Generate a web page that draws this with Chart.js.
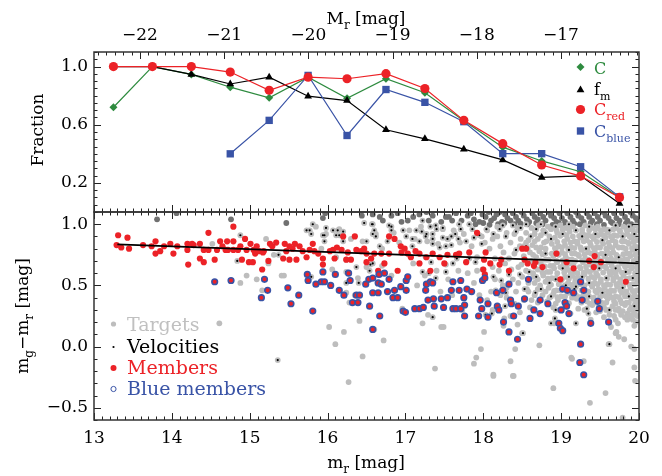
<!DOCTYPE html>
<html>
<head>
<meta charset="utf-8">
<script src="https://cdn.jsdelivr.net/npm/chart.js@4.4.1/dist/chart.umd.min.js"></script>
<style>
html, body { margin: 0; padding: 0; background: #fff; }
#wrap { position: relative; width: 662px; height: 476px; }
#wrap canvas { position: absolute; left: 0; top: 0; }
</style>
</head>
<body>
<div id="wrap">
  <canvas id="colourChart" width="662" height="476"></canvas>
  <canvas id="fracChart" width="662" height="476"></canvas>
</div>
<script>
// ---- top panel: fractions per m_r bin ----
const magBins  = [13.25, 13.75, 14.25, 14.75, 15.25, 15.75, 16.25, 16.75, 17.25, 17.75, 18.25, 18.75, 19.25, 19.75];
const fracC    = [0.72, 1.00, 0.946, 0.858, 0.785, 0.927, 0.782, 0.916, 0.82, 0.628, 0.446, 0.351, 0.277, 0.10];
const fracFm   = [1.00, 1.00, 0.946, 0.88, 0.927, 0.796, 0.766, 0.565, 0.503, 0.432, 0.358, 0.238, 0.249, 0.058];
const fracRed  = [1.00, 1.00, 1.00, 0.962, 0.837, 0.927, 0.916, 0.951, 0.849, 0.63, 0.47, 0.323, 0.247, 0.10];
const fracBlue = [null, null, null, 0.40, 0.63, 0.939, 0.526, 0.842, 0.754, 0.621, 0.401, 0.401, 0.311, 0.104];

// tick labels
const mrTicks = [13, 14, 15, 16, 17, 18, 19, 20];
const absTicks = [-22, -21, -20, -19, -18, -17];
const fracTicks = [0.2, 0.6, 1.0];
const colourTicks = [-0.5, 0.0, 0.5, 1.0];

// ---- bottom panel: colour-magnitude diagram ----
// red sequence fit
const fitX = [13.3, 20.0];
const fitY = [0.835, 0.68];

// spectroscopic members
const members = [
[13.31,0.91],[13.29,0.83],[13.35,0.81],[13.43,0.89],[13.45,0.80],[13.63,0.83],[13.74,0.82],[13.79,0.86],[13.79,0.76],[13.85,0.78],
[13.90,0.82],[13.98,0.84],[14.02,0.76],[14.07,0.82],[14.20,0.84],[14.20,0.79],[14.21,0.67],[14.26,0.84],[14.28,0.83],[14.36,0.84],
[14.36,0.72],[14.41,0.79],[14.41,0.69],[14.47,0.93],[14.47,0.79],[14.55,0.71],[14.58,0.79],[14.62,0.86],[14.65,0.82],[14.69,0.79],
[14.71,0.86],[14.72,0.79],[14.79,0.98],[14.79,0.86],[14.79,0.79],[14.85,0.79],[14.88,0.82],[14.90,0.71],[14.94,0.88],[14.96,0.79],
[14.99,0.69],[15.01,0.84],[15.04,0.69],[15.05,0.79],[15.07,0.76],[15.09,0.82],[15.12,0.78],[15.16,0.63],[15.17,0.77],[15.18,0.78],
[15.24,0.70],[15.26,0.84],[15.29,0.82],[15.34,0.85],[15.45,0.84],[15.51,0.82],[15.58,0.84],[15.64,0.82],[15.47,0.78],[15.51,0.71],
[15.60,0.71],[15.68,0.78],[15.77,0.79],[15.81,0.84],[15.83,0.78],[15.73,0.73],[15.94,0.72],[15.94,0.67],[16.03,0.78],[16.07,0.79],
[16.09,0.72],[16.18,0.79],[16.20,0.90],[16.26,0.77],[16.30,0.71],[16.35,0.90],[16.37,0.79],[16.43,0.78],[16.50,0.76],[16.56,0.72],
[16.60,0.76],[16.65,0.62],[16.69,0.76],[16.73,0.68],[16.79,0.90],[16.86,0.88],[16.79,0.76],[16.90,0.62],[16.94,0.82],[16.99,0.80],
[17.03,0.76],[17.07,0.73],[17.13,0.78],[17.18,0.76],[17.27,0.73],[17.32,0.62],[17.35,0.76],[17.44,0.73],[17.50,0.68],[17.54,0.75],
[17.65,0.75],[17.18,0.68],[16.50,0.69],[16.24,0.71],[15.88,0.76],[15.43,0.72],[15.55,0.80],[16.12,0.81],[16.47,0.80],[16.95,0.77],
[17.92,0.93],[17.69,0.76],[17.82,0.77],[17.78,0.69],[18.03,0.77],[18.01,0.71],[18.09,0.68],[18.00,0.63],[18.02,0.59],[18.23,0.71],
[18.21,0.67],[18.33,0.62],[18.50,0.80],[18.55,0.80],[18.53,0.71],[18.57,0.68],[18.67,0.69],[18.65,0.66],[18.76,0.65],[18.94,0.76],
[18.99,0.55],[19.07,0.69],[19.16,0.64],[19.36,0.70],[19.43,0.74],[19.42,0.65],[19.51,0.69],[19.83,0.53]
];

// blue members
const blueMembers = [
[14.55,0.53],[14.76,0.54],[15.19,0.55],[15.23,0.46],[15.15,0.40],[15.74,0.59],[15.75,0.54],[15.85,0.51],[15.94,0.61],[15.92,0.53],
[15.96,0.53],[16.10,0.59],[16.04,0.50],[16.15,0.46],[16.21,0.42],[16.27,0.60],[16.29,0.54],[16.37,0.42],[16.32,0.36],[16.39,0.36],
[16.41,0.42],[16.49,0.51],[16.53,0.55],[16.58,0.56],[16.66,0.59],[16.65,0.52],[16.69,0.51],[16.58,0.44],[16.65,0.44],[16.73,0.60],
[16.79,0.55],[16.77,0.45],[16.86,0.46],[16.84,0.40],[16.90,0.40],[16.94,0.49],[17.01,0.46],[17.01,0.54],[17.03,0.57],[16.54,0.33],
[16.67,0.25],[16.58,0.14],[15.81,0.29],[15.53,0.35],[15.63,0.42],[15.49,0.48],[16.97,0.29],[17.00,0.28],[17.12,0.31],[17.18,0.31],
[17.23,0.32],[17.29,0.38],[17.36,0.39],[17.46,0.39],[17.37,0.33],[17.49,0.32],[17.54,0.40],[17.59,0.46],[17.61,0.31],[17.65,0.31],
[17.27,0.51],[17.32,0.53],[17.35,0.52],[17.26,0.46],[17.61,0.53],[17.71,0.54],[17.69,0.46],[17.79,0.47],[17.85,0.45],[17.75,0.40],
[17.76,0.34],[17.71,0.31],[17.76,0.25],[17.99,0.54],[18.02,0.56],[17.96,0.38],[18.06,0.35],[17.98,0.31],[17.94,0.25],[18.06,0.24],
[18.17,0.44],[18.25,0.46],[18.18,0.33],[18.20,0.30],[18.26,0.20],[18.33,0.51],[18.35,0.38],[18.36,0.35],[18.45,0.33],[18.39,0.25],
[18.33,0.12],[18.44,0.06],[18.53,0.39],[18.58,0.55],[18.65,0.30],[18.60,0.23],[18.73,0.38],[18.73,0.27],[18.83,0.35],[19.02,0.47],
[19.08,0.46],[19.16,0.44],[19.29,0.46],[19.25,0.53],[19.27,0.38],[19.05,0.36],[19.07,0.33],[19.00,0.30],[19.10,0.27],[18.97,0.19],
[18.99,0.15],[19.02,0.13],[19.25,0.02],[19.24,-0.13],[19.29,-0.23],[19.38,0.19],[19.47,0.37],[19.49,0.31],[19.61,0.20]
];

// galaxies with measured velocities
const velocities = [
[14.88,0.91],[14.84,0.70],[15.37,0.75],[15.36,-0.11],[15.77,0.95],[15.81,1.00],[15.79,0.92],[15.96,0.91],[15.96,0.86],[16.07,0.95],
[16.11,0.91],[16.20,0.94],[16.20,0.86],[16.47,1.01],[16.58,1.00],[16.60,0.95],[16.50,0.86],[16.55,0.67],[16.54,0.62],[16.40,0.52],
[16.24,0.52],[16.11,0.73],[15.79,0.57],[15.73,0.95],[15.98,0.97],[16.13,0.95],[16.15,0.91],[15.94,0.91],[16.62,0.90],[16.67,0.82],
[16.58,0.68],[16.24,0.61],[16.37,0.65],[16.79,0.99],[16.82,0.95],[16.97,0.95],[17.01,0.90],[17.09,0.88],[17.14,0.95],[17.18,0.86],
[17.27,0.92],[17.35,0.92],[17.39,0.99],[17.48,0.97],[17.54,0.88],[17.59,0.90],[17.35,0.84],[17.44,0.81],[17.52,0.82],[17.09,0.82],
[17.22,0.61],[17.30,0.60],[17.39,0.56],[17.52,0.61],[17.61,0.68],[17.35,0.24],[16.24,0.71],[16.57,1.00],[16.58,0.92],[16.82,0.98],
[16.77,0.86],[17.22,1.03],[17.32,0.98],[17.40,0.96],[17.21,0.94],[17.26,0.90],[17.35,0.88],[17.48,0.89],[17.64,0.92],[17.69,1.00],
[17.71,0.96],[17.82,1.00],[17.86,0.96],[17.59,0.83],[17.68,0.88],[17.78,0.86],[17.88,0.89],[17.95,0.91],[17.98,0.84],[18.04,0.96],
[18.13,0.92],[18.21,0.96],[18.25,0.99],[18.29,0.90],[18.38,0.99],[18.42,0.94],[18.48,0.97],[18.55,1.00],[18.61,0.90],[18.68,0.96],
[18.74,1.00],[18.80,0.93],[18.87,0.88],[18.93,0.98],[19.02,0.92],[19.10,1.00],[19.19,0.95],[19.27,0.90],[19.36,0.98],[19.44,0.92],
[19.53,0.87],[19.62,0.95],[19.70,0.99],[19.79,0.90],[19.87,0.98],[19.94,0.92],[17.26,0.73],[17.33,0.69],[17.52,0.67],[17.66,0.72],
[17.82,0.72],[17.90,0.69],[17.99,0.63],[18.13,0.57],[18.23,0.54],[18.33,0.59],[18.47,0.59],[18.59,0.61],[18.68,0.57],[18.76,0.65],
[18.85,0.52],[18.93,0.55],[19.02,0.64],[19.10,0.57],[19.19,0.49],[19.27,0.57],[19.36,0.52],[19.49,0.64],[19.58,0.56],[19.70,0.64],
[19.83,0.61],[19.92,0.56],[19.96,0.79],[18.42,0.79],[18.55,0.82],[18.80,0.76],[19.10,0.79],[19.32,0.80],[19.57,0.75],[19.74,0.73],
[18.16,0.46],[18.29,0.44],[18.53,0.47],[18.67,0.44],[18.74,0.47],[18.87,0.41],[19.06,0.50],[19.17,0.47],[19.36,0.41],[19.53,0.44],
[19.79,0.48],[19.87,0.41],[19.94,0.33],[19.62,0.30],[19.33,0.31],[18.93,0.30],[18.28,0.33],[18.03,0.26],[18.11,0.27],[18.51,0.11],
[18.87,0.19],[18.92,0.23],[19.19,0.19],[19.35,0.27],[19.62,0.02]
];

// photometric targets
const targets = [
[14.52,0.84],[14.96,0.58],[14.88,0.52],[15.09,0.55],[15.16,0.46],[15.21,0.88],[15.31,0.75],[15.24,0.68],[15.41,0.58],[14.61,0.19],
[15.44,0.58],[15.85,0.98],[15.92,0.80],[16.06,0.63],[16.28,0.36],[16.39,0.56],[16.50,0.65],[16.24,0.44],[16.35,0.42],[16.45,0.86],
[16.70,0.80],[16.02,0.16],[16.21,0.12],[16.10,0.02],[16.27,-0.29],[16.45,-0.08],[16.41,0.21],[16.60,0.14],[16.72,0.05],[16.96,0.31],
[17.22,0.19],[17.38,-0.18],[17.46,0.16],[17.49,0.16],[17.73,0.30],[17.29,0.26],[17.88,-0.14],[17.91,-0.09],[17.97,-0.02],[18.01,0.12],
[18.13,-0.24],[18.27,0.23],[18.35,-0.12],[18.38,-0.24],[18.41,-0.02],[18.44,0.18],[18.72,0.01],[18.90,-0.34],[19.14,-0.10],[19.29,-0.12],
[19.37,-0.46],[19.57,-0.38],[19.66,-0.13],[19.70,0.11],[19.73,0.19],[19.79,-0.58],[19.94,-0.17],[19.95,-0.28],[19.94,-0.02],[19.92,0.26],
[19.90,0.00],[19.81,0.06],[19.74,0.08],[19.71,0.12],[19.61,0.02],[18.50,0.11],[18.26,0.17],[19.94,0.17],[19.85,0.22],[19.64,0.16],
[19.38,0.22],[18.91,0.19],[19.13,-0.09],[18.13,-0.23],[18.39,-0.24],[17.05,0.95],[17.12,0.88],[17.20,0.98],[17.28,0.86],[17.42,0.84],
[17.48,0.96],[17.10,0.68],[17.40,0.62],[17.25,0.58],[17.55,0.55],[16.92,0.85],[16.85,0.93],[16.62,0.92],[16.70,0.66],[16.30,0.88],
[16.15,0.96],[15.98,0.92],[16.82,0.58],[17.15,0.50],[17.60,0.42],[17.45,0.45],[18.05,0.95],[18.12,0.88],[18.18,0.98],[18.22,0.82],
[18.30,0.93],[18.35,0.85],[18.40,0.76],[18.44,0.97],[18.48,0.88],[18.15,0.72],[18.28,0.68],[18.45,0.65],[18.38,0.55],[18.50,0.57],
[18.25,0.50],[18.10,0.45],[18.42,0.45],[18.52,0.38],[18.30,0.40],[18.47,0.28],[18.56,0.47],[18.20,0.62],[18.08,0.80],[17.98,0.90],
[17.92,0.73],[17.85,0.82],[17.75,0.92],[17.70,0.85],[17.62,0.95],[17.55,0.88],[17.80,0.60],[17.88,0.52],[17.68,0.62],[17.95,0.42],
[18.12,0.30],[18.35,0.25],[18.55,0.62],[18.60,0.32],[18.58,0.52],[18.66,0.42],[18.70,0.36],
[18.02,0.85],[18.18,0.90],[18.26,0.77],[18.33,0.72],[18.40,0.92],[18.47,0.82],[18.52,0.74],[18.12,0.65],[18.36,0.63],[18.45,0.52],
[18.22,0.42],[18.30,0.48],[18.40,0.35],[18.05,0.38],[18.15,0.55],[17.92,0.62],[17.85,0.45],[18.58,0.45],[18.62,0.38],[18.49,0.67],
[18.62,0.97],[18.71,0.99],[18.83,0.98],[18.99,0.99],[19.06,0.97],[19.15,0.98],[19.31,0.99],[19.40,0.97],[19.47,0.98],[19.55,0.96],
[19.71,0.97],[19.80,0.98],[19.88,0.96],[19.96,0.99],[18.55,0.93],[18.66,0.92],[18.78,0.94],[18.95,0.93],[19.03,0.92],[19.11,0.94],
[19.27,0.93],[19.35,0.91],[19.51,0.92],[19.60,0.93],[19.68,0.91],[19.76,0.94],[19.85,0.92],[19.93,0.93],[18.58,0.87],[18.70,0.88],
[18.81,0.86],[18.92,0.89],[19.08,0.88],[19.17,0.86],[19.25,0.89],[19.33,0.87],[19.42,0.88],[19.57,0.89],[19.66,0.87],[19.82,0.86],
[19.90,0.89],[19.97,0.87],[18.52,0.82],[18.63,0.83],[18.74,0.81],[18.88,0.84],[18.97,0.82],[19.05,0.83],[19.13,0.81],[19.21,0.84],
[19.38,0.83],[19.46,0.81],[19.54,0.84],[19.62,0.82],[19.70,0.83],[19.79,0.81],[19.87,0.84],[19.95,0.82],[18.60,0.77],[18.72,0.78],
[18.93,0.79],[19.01,0.77],[19.18,0.76],[19.26,0.79],[19.35,0.77],[19.43,0.78],[19.52,0.76],[19.59,0.79],[19.67,0.77],[19.84,0.76],
[19.92,0.79],[19.98,0.77],[18.68,0.73],[18.80,0.71],[18.90,0.74],[19.06,0.73],[19.14,0.71],[19.23,0.74],[19.31,0.72],[19.48,0.71],
[19.56,0.74],[19.64,0.72],[19.72,0.73],[19.81,0.71],[19.89,0.74],[19.97,0.72],[18.74,0.68],[18.86,0.66],[18.95,0.69],[19.03,0.67],
[19.12,0.68],[19.28,0.69],[19.37,0.67],[19.45,0.68],[19.53,0.66],[19.61,0.69],[19.78,0.68],[19.86,0.66],[19.94,0.69],[18.70,0.63],
[18.82,0.61],[18.91,0.64],[19.08,0.63],[19.17,0.61],[19.25,0.64],[19.33,0.62],[19.41,0.63],[19.58,0.64],[19.66,0.62],[19.74,0.63],
[19.83,0.61],[19.91,0.64],[19.98,0.62],[18.64,0.57],[18.77,0.58],[18.88,0.56],[19.05,0.57],[19.14,0.58],[19.22,0.56],[19.30,0.59],
[19.39,0.57],[19.47,0.58],[19.63,0.59],[19.71,0.57],[19.80,0.58],[19.88,0.56],[19.96,0.59],[18.66,0.52],[18.80,0.53],[19.00,0.54],
[19.09,0.52],[19.18,0.53],[19.26,0.51],[19.43,0.52],[19.51,0.53],[19.59,0.51],[19.67,0.54],[19.75,0.52],[19.84,0.53],[19.92,0.51],
[19.98,0.54],[18.70,0.47],[18.84,0.48],[18.94,0.46],[19.03,0.49],[19.12,0.47],[19.31,0.46],[19.40,0.49],[19.48,0.47],[19.56,0.48],
[19.64,0.46],[19.72,0.49],[19.89,0.48],[19.97,0.46],[18.76,0.42],[18.90,0.43],[19.00,0.41],[19.10,0.44],[19.19,0.42],[19.29,0.43],
[19.46,0.44],[19.54,0.42],[19.62,0.43],[19.70,0.41],[19.78,0.44],[19.86,0.42],[19.94,0.43],[18.82,0.37],[18.96,0.38],[19.20,0.39],
[19.33,0.37],[19.42,0.38],[19.52,0.36],[19.60,0.39],[19.68,0.37],[19.76,0.38],[19.84,0.36],[19.92,0.39],[19.98,0.37],[18.90,0.32],
[19.05,0.33],[19.22,0.31],[19.40,0.34],[19.55,0.32],[19.66,0.33],[19.74,0.31],[19.82,0.34],[19.90,0.32],[19.97,0.33],[19.12,0.27],
[19.45,0.28],[19.62,0.26],[19.75,0.29],[19.85,0.27],[19.94,0.28],[19.70,0.22],[19.82,0.24],[19.92,0.22],[19.98,0.25],
[18.66,0.955],[18.77,0.95],[18.87,0.96],[18.94,0.95],[19.02,0.955],[19.10,0.96],[19.19,0.95],[19.27,0.955],[19.36,0.95],[19.44,0.96],
[19.51,0.95],[19.59,0.955],[19.67,0.96],[19.75,0.95],[19.84,0.955],[19.92,0.96],[19.99,0.95],[18.61,0.90],[18.74,0.91],[18.85,0.90],
[18.99,0.905],[19.07,0.91],[19.15,0.90],[19.23,0.905],[19.31,0.91],[19.40,0.90],[19.47,0.905],[19.55,0.91],[19.64,0.90],[19.72,0.905],
[19.80,0.91],[19.88,0.90],[19.95,0.905],[18.55,0.85],[18.66,0.86],[18.78,0.85],[18.95,0.855],[19.04,0.86],[19.12,0.85],[19.21,0.855],
[19.29,0.86],[19.37,0.85],[19.46,0.855],[19.53,0.86],[19.61,0.85],[19.70,0.855],[19.78,0.86],[19.86,0.85],[19.93,0.855],[18.57,0.80],
[18.68,0.81],[18.80,0.80],[18.92,0.805],[19.01,0.81],[19.09,0.80],[19.17,0.805],[19.25,0.81],[19.34,0.80],[19.42,0.805],[19.50,0.81],
[19.58,0.80],[19.66,0.805],[19.74,0.81],[19.83,0.80],[19.91,0.805],[19.98,0.81],[18.64,0.75],[18.76,0.755],[18.88,0.76],[18.97,0.75],
[19.05,0.755],[19.14,0.76],[19.22,0.75],[19.30,0.755],[19.39,0.76],[19.47,0.75],[19.55,0.755],[19.63,0.76],[19.71,0.75],[19.80,0.755],
[19.88,0.76],[19.95,0.75],[18.62,0.70],[18.74,0.705],[18.84,0.71],[18.94,0.70],[19.02,0.705],[19.10,0.71],[19.18,0.70],[19.27,0.705],
[19.35,0.71],[19.43,0.70],[19.52,0.705],[19.60,0.71],[19.68,0.70],[19.76,0.705],[19.85,0.71],[19.93,0.70],[19.99,0.705],[18.66,0.65],
[18.79,0.655],[18.90,0.66],[18.99,0.65],[19.07,0.655],[19.16,0.66],[19.24,0.65],[19.32,0.655],[19.41,0.66],[19.49,0.65],[19.57,0.655],
[19.65,0.66],[19.73,0.65],[19.82,0.655],[19.90,0.66],[19.97,0.65],[18.64,0.60],[18.76,0.605],[18.86,0.61],[18.95,0.60],[19.04,0.605],
[19.12,0.61],[19.21,0.60],[19.29,0.605],[19.37,0.61],[19.45,0.60],[19.54,0.605],[19.62,0.61],[19.70,0.60],[19.78,0.605],[19.87,0.61],
[19.95,0.60],[18.70,0.55],[18.83,0.555],[18.93,0.56],[19.01,0.55],[19.10,0.555],[19.18,0.56],[19.26,0.55],[19.35,0.555],[19.43,0.56],
[19.51,0.55],[19.59,0.555],[19.67,0.56],[19.76,0.55],[19.84,0.555],[19.92,0.56],[19.99,0.55],[18.73,0.50],[18.87,0.505],[18.97,0.51],
[19.05,0.50],[19.14,0.505],[19.22,0.51],[19.30,0.50],[19.39,0.505],[19.47,0.51],[19.55,0.50],[19.63,0.505],[19.71,0.51],[19.80,0.50],
[19.88,0.505],[19.95,0.51],[18.80,0.45],[18.91,0.455],[18.99,0.46],[19.08,0.45],[19.17,0.455],[19.26,0.46],[19.35,0.45],[19.44,0.455],
[19.52,0.46],[19.60,0.45],[19.68,0.455],[19.76,0.46],[19.84,0.45],[19.92,0.455],[19.99,0.46],[18.85,0.40],[18.95,0.405],[19.05,0.41],
[19.14,0.40],[19.24,0.405],[19.33,0.41],[19.42,0.40],[19.50,0.405],[19.58,0.41],[19.66,0.40],[19.74,0.405],[19.82,0.41],[19.90,0.40],
[19.97,0.405],[18.93,0.35],[19.10,0.355],[19.26,0.36],[19.37,0.35],[19.47,0.355],[19.58,0.36],[19.70,0.35],[19.78,0.355],[19.87,0.36],
[19.95,0.35],[19.00,0.30],[19.30,0.30],[19.50,0.29],[19.58,0.30],[19.70,0.30],[19.79,0.29],[19.88,0.30],[19.96,0.30],[19.55,0.24],
[19.68,0.25],[19.77,0.26],[19.88,0.25],[19.96,0.20]
];

// targets redder than the plotted range (piled up at the top edge)
const redTargets = [
[13.81,1.04],[14.06,1.09],[14.76,1.04],[15.47,1.01],[15.97,1.09],[16.44,1.07],[16.58,1.08],[15.94,1.05],[16.67,1.06],[17.03,1.03],
[17.27,1.10],[17.52,1.06],[16.71,1.03],[16.82,1.07],[16.95,1.02],[17.10,1.06],[17.18,1.08],[17.30,1.03],[17.46,1.02],[17.56,1.06],
[17.65,1.09],[17.72,1.03],[17.80,1.07],[17.88,1.04],[17.95,1.02],[18.03,1.06],[18.10,1.03],[18.17,1.08],[18.24,1.02],[18.31,1.05],
[18.38,1.09],[18.45,1.03],[18.52,1.07],[18.59,1.02],[18.66,1.06],[18.73,1.09],[18.80,1.03],[18.87,1.07],[18.94,1.02],[19.01,1.05],
[19.08,1.09],[19.15,1.03],[19.22,1.07],[19.29,1.02],[19.36,1.06],[19.43,1.09],[19.50,1.03],[19.57,1.07],[19.64,1.02],[19.71,1.05],
[19.78,1.09],[19.85,1.03],[19.92,1.07],[19.98,1.02],[17.99,1.08],[18.07,1.10],[18.14,1.05],[18.21,1.10],[18.28,1.08],[18.35,1.03],
[18.42,1.06],[18.49,1.10],[18.56,1.04],[18.63,1.09],[18.70,1.04],[18.77,1.06],[18.84,1.10],[18.91,1.05],[18.98,1.09],[19.05,1.02],
[19.12,1.06],[19.19,1.10],[19.26,1.05],[19.33,1.09],[19.40,1.03],[19.47,1.06],[19.54,1.10],[19.61,1.05],[19.68,1.09],[19.75,1.03],
[19.82,1.06],[19.89,1.10],[19.96,1.05],[17.90,1.00],[18.00,1.01],[18.08,0.995],[18.19,1.00],[18.27,1.01],[18.40,1.00],[18.48,1.005],
[18.57,1.00],[18.68,1.01],[18.76,1.00],[18.89,0.995],[18.97,1.01],[19.06,1.00],[19.17,1.005],[19.24,1.00],[19.38,1.01],[19.46,1.00],
[19.55,0.995],[19.66,1.01],[19.74,1.00],[19.83,1.005],[19.90,1.00],[19.99,1.01],[17.35,1.07],[17.60,1.03],[17.84,1.09],[16.90,1.09]
];

const GREEN = '#2e8b3f', RED = '#ec2227', BLUE = '#3953a6', GREY = '#bdbdbd', DARKGREY = '#707070';
const FONT = '"DejaVu Serif", serif';

Chart.defaults.font.family = FONT;
Chart.defaults.font.size = 17;
Chart.defaults.color = '#000';

const xy = arr => arr.map(p => ({x: p[0], y: p[1]}));
const minusFmt = (v, d) => (v < 0 ? '\u2212' : '') + Math.abs(v).toFixed(d);

// draw text with subscripts, parts = [[text, isSub], ...]
function richText(ctx, parts, x, y, size, color, align, rot) {
    ctx.save();
    ctx.translate(x, y);
    if (rot) ctx.rotate(rot);
    ctx.fillStyle = color;
    ctx.textBaseline = 'alphabetic';
    ctx.textAlign = 'left';
    const sub = Math.round(size * 0.7);
    let w = 0;
    parts.forEach(p => { ctx.font = (p[1] ? sub : size) + 'px ' + FONT; w += ctx.measureText(p[0]).width; });
    let cx = align === 'center' ? -w / 2 : 0;
    parts.forEach(p => {
        ctx.font = (p[1] ? sub : size) + 'px ' + FONT;
        ctx.fillText(p[0], cx, p[1] ? size * 0.3 : 0);
        cx += ctx.measureText(p[0]).width;
    });
    ctx.restore();
}

// box round the plot and inward IDL-style ticks
const frameTicks = {
    id: 'frameTicks',
    afterDraw(chart, args, opts) {
        const ctx = chart.ctx, a = chart.chartArea;
        ctx.save();
        ctx.strokeStyle = '#222';
        ctx.lineWidth = 1;
        opts.sides.forEach(sd => {
            const sc = chart.scales[sd.scale];
            const n = Math.round((sd.to - sd.from) / sd.step);
            for (let i = 0; i <= n; i++) {
                const v = sd.from + i * sd.step;
                const major = sd.majors.some(m => Math.abs(m - v) < 1e-6);
                const len = major ? 7 : 3.5;
                const p = Math.round(sc.getPixelForValue(v)) + 0.5;
                ctx.beginPath();
                if (sd.edge === 'top') { ctx.moveTo(p, a.top); ctx.lineTo(p, a.top + len); }
                if (sd.edge === 'bottom') { ctx.moveTo(p, a.bottom); ctx.lineTo(p, a.bottom - len); }
                if (sd.edge === 'left') { ctx.moveTo(a.left, p); ctx.lineTo(a.left + len, p); }
                if (sd.edge === 'right') { ctx.moveTo(a.right, p); ctx.lineTo(a.right - len, p); }
                ctx.stroke();
            }
        });
        ctx.lineWidth = 1.5;
        ctx.strokeStyle = '#333';
        ctx.strokeRect(a.left, a.top, a.right - a.left, a.bottom - a.top);
        ctx.restore();
    }
};

// titles and hand-placed legends
const annotations = {
    id: 'annotations',
    afterDraw(chart, args, opts) {
        const ctx = chart.ctx;
        opts.titles.forEach(t => richText(ctx, t.parts, t.x, t.y, 17, '#000', 'center', t.rot));
        opts.legend.forEach(l => {
            ctx.save();
            ctx.fillStyle = l.fill;
            ctx.strokeStyle = l.stroke || l.fill;
            Chart.helpers.drawPoint(ctx, {pointStyle: l.style, radius: l.r, borderWidth: l.bw || 0, rotation: 0}, l.x, l.y);
            ctx.restore();
            richText(ctx, l.parts, l.tx, l.ty, l.size, l.color, 'left');
        });
    }
};

const hideGrid = {display: false, drawTicks: false};

// ---------- top panel ----------
const lineSet = (label, vals, color, style, r, order) => ({
    type: 'line', label: label, data: magBins.map((m, i) => ({x: m, y: vals[i]})),
    borderColor: color, backgroundColor: color, borderWidth: 1.2,
    pointStyle: style, pointRadius: r, pointBorderWidth: 0, order: order
});

new Chart(document.getElementById('fracChart'), {
    type: 'line',
    data: {
        datasets: [
            lineSet('C', fracC, GREEN, 'rectRot', 4, 3),
            lineSet('f_m', fracFm, '#000', 'triangle', 4.5, 2),
            lineSet('C_red', fracRed, RED, 'circle', 4.6, 0),
            lineSet('C_blue', fracBlue, BLUE, 'rect', 5.2, 1)
        ]
    },
    options: {
        responsive: false, animation: false,
        layout: {padding: {left: 0, right: 23, top: 0, bottom: 476 - 212}},
        scales: {
            x: {type: 'linear', min: 13, max: 20, display: false},
            xTop: {
                type: 'linear', position: 'top', min: -22.546, max: -16.073,
                grid: hideGrid, border: {display: false},
                afterBuildTicks: s => { s.ticks = absTicks.map(v => ({value: v})); },
                afterFit: s => { s.height = 52; },
                ticks: {padding: 6, maxRotation: 0, autoSkip: false, callback: v => minusFmt(v, 0)}
            },
            y: {
                min: 0, max: 1.1, grid: hideGrid, border: {display: false},
                afterBuildTicks: s => { s.ticks = fracTicks.map(v => ({value: v})); },
                afterFit: s => { s.width = 94; },
                ticks: {padding: 6, callback: v => minusFmt(v, 1)}
            }
        },
        plugins: {
            legend: {display: false}, tooltip: {enabled: false},
            frameTicks: {sides: [
                {edge: 'top', scale: 'xTop', from: -22.5, to: -16.1, step: 0.1, majors: absTicks},
                {edge: 'bottom', scale: 'x', from: 13, to: 20, step: 0.1, majors: mrTicks},
                {edge: 'left', scale: 'y', from: 0, to: 1.1, step: 0.05, majors: fracTicks},
                {edge: 'right', scale: 'y', from: 0, to: 1.1, step: 0.05, majors: fracTicks}
            ]},
            annotations: {
                titles: [
                    {parts: [['M'], ['r', 1], [' [mag]']], x: 366, y: 24},
                    {parts: [['Fraction']], x: 43, y: 130, rot: -Math.PI / 2}
                ],
                legend: [
                    {style: 'rectRot', r: 4, fill: GREEN, x: 580.5, y: 67, parts: [['C']], tx: 594, ty: 73.5, size: 16, color: GREEN},
                    {style: 'triangle', r: 4.5, fill: '#000', x: 580.5, y: 90, parts: [['f'], ['m', 1]], tx: 594, ty: 95, size: 16, color: '#000'},
                    {style: 'circle', r: 4.6, fill: RED, x: 580.5, y: 109.5, parts: [['C'], ['red', 1]], tx: 594, ty: 115, size: 16, color: RED},
                    {style: 'rect', r: 5.2, fill: BLUE, x: 580.5, y: 131, parts: [['C'], ['blue', 1]], tx: 594, ty: 137, size: 16, color: BLUE}
                ]
            }
        }
    },
    plugins: [frameTicks, annotations]
});

// ---------- bottom panel ----------
new Chart(document.getElementById('colourChart'), {
    type: 'scatter',
    data: {
        datasets: [
            {type: 'line', label: 'fit', data: fitX.map((x, i) => ({x: x, y: fitY[i]})),
             borderColor: '#000', borderWidth: 1.8, pointRadius: 0, order: 0},
            {label: 'Blue members', data: xy(blueMembers), pointRadius: 2.8, pointBorderWidth: 1.6,
             backgroundColor: RED, borderColor: BLUE, order: 1},
            {label: 'Members', data: xy(members), pointRadius: 3.1, pointBorderWidth: 0,
             backgroundColor: RED, borderColor: RED, order: 2},
            {label: 'Velocities', data: xy(velocities), pointRadius: 1.1, pointBorderWidth: 0,
             backgroundColor: '#000', borderColor: '#000', order: 3},
            {label: 'Targets', data: xy(targets.concat(velocities)), pointRadius: 2.9, pointBorderWidth: 0,
             backgroundColor: GREY, borderColor: GREY, order: 4},
            {label: 'Targets (red)', data: xy(redTargets), pointRadius: 2.9, pointBorderWidth: 0,
             backgroundColor: DARKGREY, borderColor: DARKGREY, order: 5}
        ]
    },
    options: {
        responsive: false, animation: false,
        layout: {padding: {left: 0, right: 23, top: 212, bottom: 0}},
        scales: {
            x: {
                type: 'linear', min: 13, max: 20, grid: hideGrid, border: {display: false},
                afterBuildTicks: s => { s.ticks = mrTicks.map(v => ({value: v})); },
                afterFit: s => { s.height = 56; },
                ticks: {padding: 8, maxRotation: 0, autoSkip: false, callback: v => minusFmt(v, 0)}
            },
            y: {
                min: -0.6, max: 1.1, grid: hideGrid, border: {display: false},
                afterBuildTicks: s => { s.ticks = colourTicks.map(v => ({value: v})); },
                afterFit: s => { s.width = 94; },
                ticks: {padding: 6, callback: v => minusFmt(v, 1)}
            }
        },
        plugins: {
            legend: {display: false}, tooltip: {enabled: false},
            frameTicks: {sides: [
                {edge: 'top', scale: 'x', from: 13, to: 20, step: 0.1, majors: mrTicks},
                {edge: 'bottom', scale: 'x', from: 13, to: 20, step: 0.1, majors: mrTicks},
                {edge: 'left', scale: 'y', from: -0.6, to: 1.1, step: 0.1, majors: colourTicks},
                {edge: 'right', scale: 'y', from: -0.6, to: 1.1, step: 0.1, majors: colourTicks}
            ]},
            annotations: {
                titles: [
                    {parts: [['m'], ['r', 1], [' [mag]']], x: 366, y: 468},
                    {parts: [['m'], ['g', 1], ['\u2212m'], ['r', 1], [' [mag]']], x: 28, y: 316, rot: -Math.PI / 2}
                ],
                legend: [
                    {style: 'circle', r: 2.6, fill: GREY, x: 113.5, y: 324, parts: [['Targets']], tx: 127, ty: 331, size: 19, color: '#c0c0c0'},
                    {style: 'circle', r: 1.1, fill: '#000', x: 113.5, y: 347, parts: [['Velocities']], tx: 127, ty: 353, size: 19, color: '#000'},
                    {style: 'circle', r: 3, fill: RED, x: 113.5, y: 368, parts: [['Members']], tx: 127, ty: 374, size: 19, color: RED},
                    {style: 'circle', r: 2.6, fill: 'rgba(0,0,0,0)', stroke: BLUE, bw: 1.5, x: 113.5, y: 389, parts: [['Blue members']], tx: 127, ty: 395, size: 19, color: BLUE}
                ]
            }
        }
    },
    plugins: [frameTicks, annotations]
});
</script>
</body>
</html>
